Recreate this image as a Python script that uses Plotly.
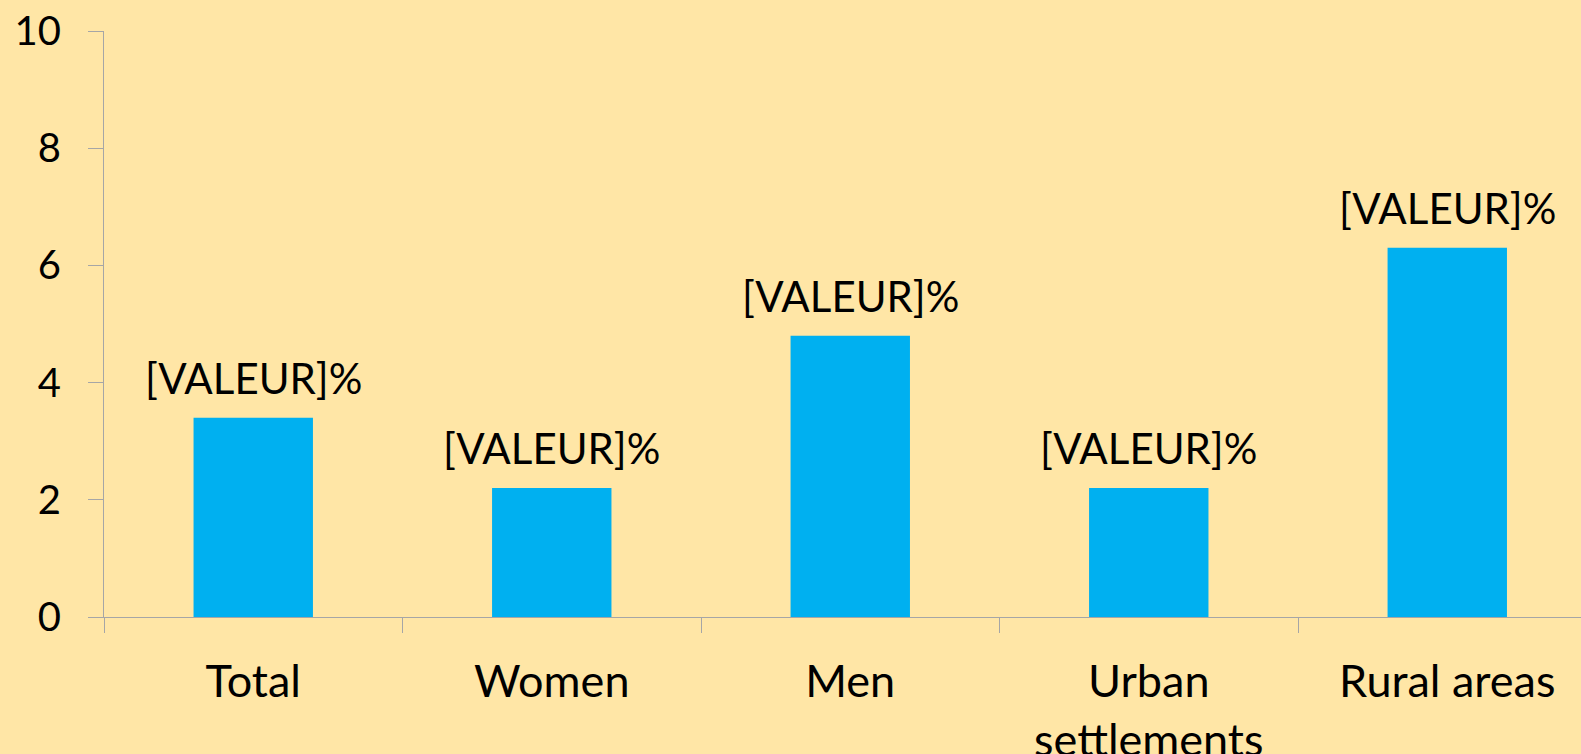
import plotly.graph_objects as go

categories = ["Total", "Women", "Men", "Urban<br>settlements", "Rural areas"]
values = [3.4, 2.2, 4.8, 2.2, 6.3]
labels = ["[VALEUR]%"] * 5
y_ticks = [0, 2, 4, 6, 8, 10]

BG = "#FFE6A6"
FONT = "Lato"
AXIS = "#A6A6A6"

fig = go.Figure()
fig.add_trace(go.Bar(
    x=list(range(len(categories))), y=values,
    marker=dict(color="#00B0F0", line=dict(width=0)),
    width=0.4, hoverinfo="skip",
))
for i, (v, t) in enumerate(zip(values, labels)):
    fig.add_annotation(x=i, y=v, text=t, showarrow=False, yanchor="bottom",
                       yshift=13, font=dict(family=FONT, size=42, color="#000000"))

fig.update_layout(
    width=1581, height=754,
    paper_bgcolor=BG, plot_bgcolor=BG,
    margin=dict(l=104, r=0, t=31, b=137, autoexpand=False),
    showlegend=False,
    font=dict(family=FONT, color="#000000"),
)
fig.update_xaxes(
    tickmode="array", tickvals=list(range(len(categories))), ticktext=categories,
    range=[-0.5, 4.448],
    showline=True, linecolor=AXIS, linewidth=1.3,
    ticks="", showgrid=False, zeroline=False,
    tickfont=dict(family=FONT, size=45, color="#000000"),
    ticklabelstandoff=25,
    automargin=False,
)
fig.update_xaxes(minor=dict(tickmode="array", tickvals=[-0.5, 0.5, 1.5, 2.5, 3.5, 4.5],
                            ticks="outside", ticklen=15, tickcolor=AXIS, tickwidth=1.3))
fig.update_yaxes(
    range=[0, 10], tickvals=y_ticks,
    showline=True, linecolor=AXIS, linewidth=1.3,
    ticks="outside", ticklen=15, tickcolor=AXIS, tickwidth=1.3,
    showgrid=False, zeroline=False,
    tickfont=dict(family=FONT, size=40, color="#000000"),
    ticklabelstandoff=19,
    automargin=False,
)
fig.write_html("out.html", config={"displayModeBar": False}, post_script=(
    "document.body.style.margin='0';document.body.style.background='" + BG + "';"
    "document.documentElement.style.overflow='hidden';"
))
